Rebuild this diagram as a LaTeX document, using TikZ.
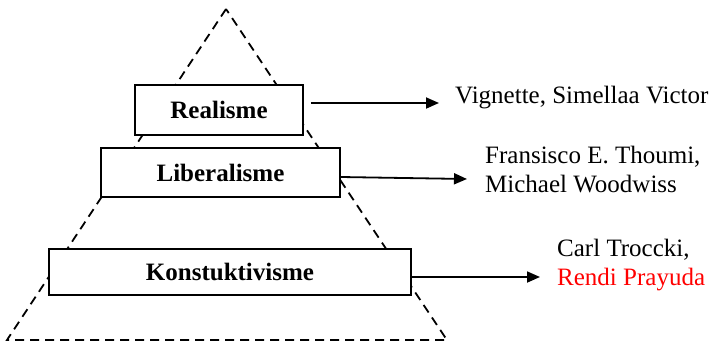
\documentclass[tikz,border=0pt]{standalone}
\usepackage{fontspec}
\setmainfont{Liberation Serif}
\usetikzlibrary{arrows.meta}
\begin{document}
\begin{tikzpicture}[x=1pt,y=-1pt,
  layerbox/.style={draw,fill=white,line width=1.8pt,inner sep=0pt,font=\fontsize{25}{30}\selectfont\bfseries},
  dashline/.style={line width=1.8pt,dash pattern=on 9pt off 6pt},
  arr/.style={line width=1.8pt,-{Triangle[length=13pt,width=11pt]}},
  lbl/.style={anchor=base west,inner sep=0pt,font=\fontsize{25}{30}\selectfont}]
\useasboundingbox (0,0) rectangle (713,346);
% pyramid outline
\draw[dashline] (226,9) -- (7,340) -- (447,340) -- cycle;
% layers
\node[layerbox,minimum width=168pt,minimum height=50pt] (real) at (219,110) {Realisme};
\node[layerbox,minimum width=239pt,minimum height=49pt] (lib) at (220.5,172.5) {Liberalisme};
\node[layerbox,minimum width=362pt,minimum height=46pt] (kon) at (230,272) {Konstuktivisme};
% labels
\node[lbl] (t1) at (455,103) {Vignette, Simellaa Victor};
\node[lbl] (t2a) at (485,163) {Fransisco E. Thoumi,};
\node[lbl] (t2b) at (485,192) {Michael Woodwiss};
\node[lbl] (t3a) at (557,256) {Carl Troccki,};
\node[lbl,text={rgb,255:red,255;green,0;blue,0}] (t3b) at (557,285) {Rendi Prayuda};
% arrow tips
\coordinate (e1) at (439,103);
\coordinate (e2) at (467,179);
\coordinate (e3) at (540,277);
% connectors
\draw[arr] ([xshift=7pt,yshift=7pt]real.east) -- (e1);
\draw[arr] ([yshift=-4.5pt]lib.east) -- (e2);
\draw[arr] ([yshift=-5pt]kon.east) -- (e3);
\end{tikzpicture}
\end{document}
